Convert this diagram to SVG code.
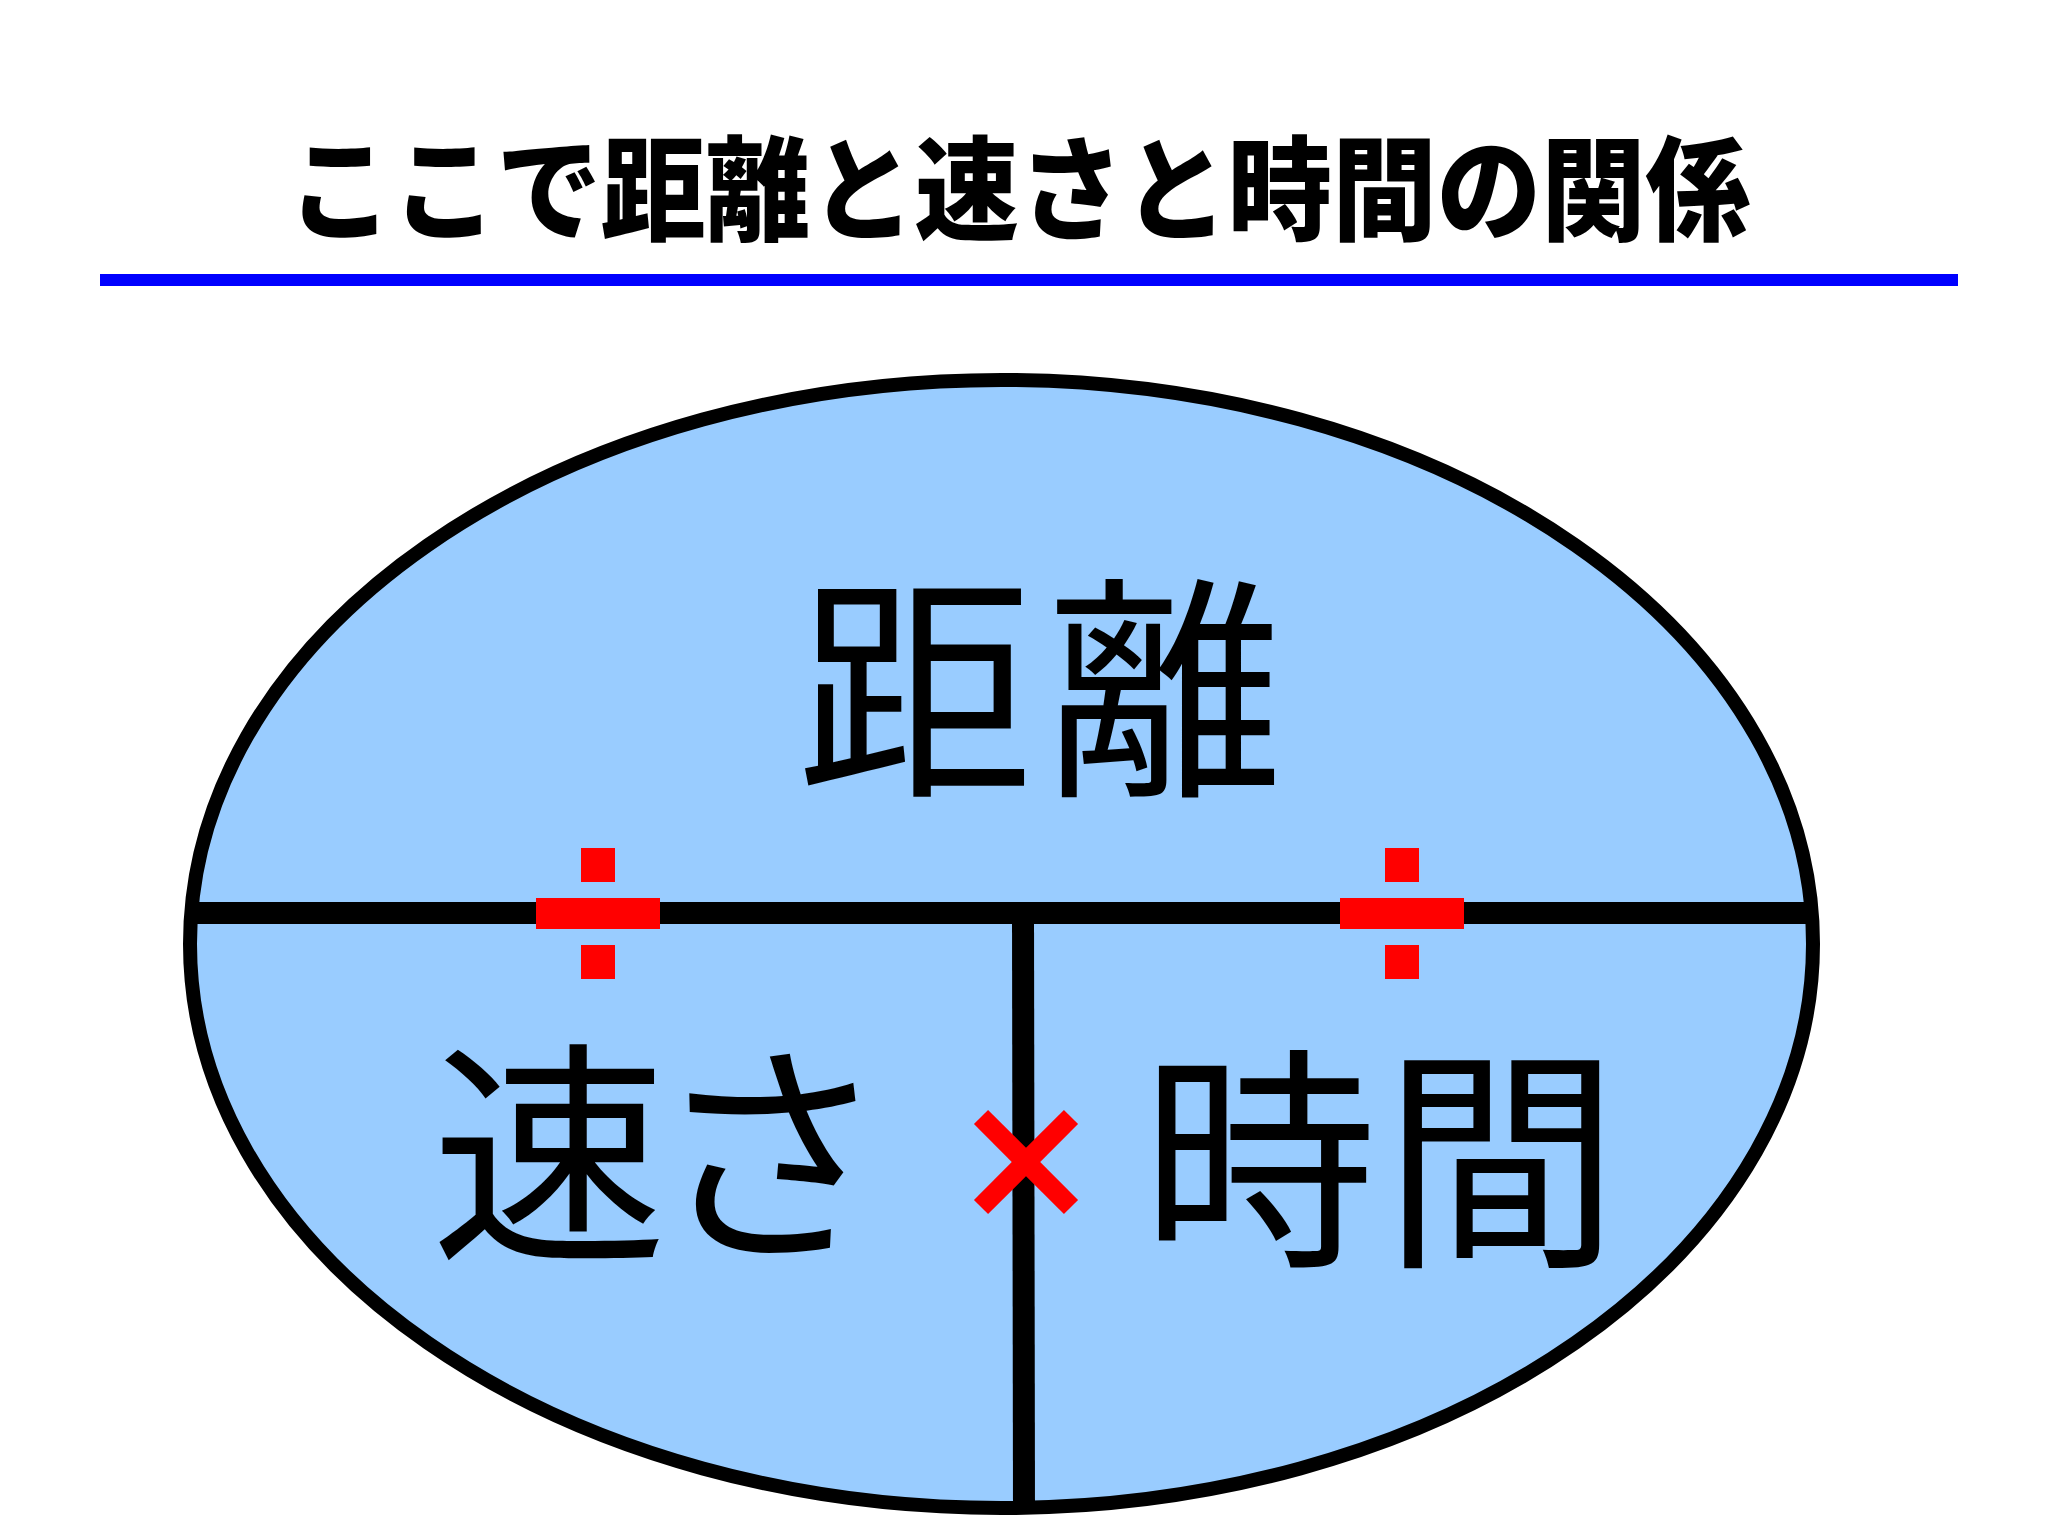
<svg xmlns="http://www.w3.org/2000/svg" width="2048" height="1535" viewBox="0 0 2048 1535">
<style>
.title{font-family:"Noto Sans CJK JP","Noto Sans CJK SC",sans-serif;font-weight:900;font-size:113px;fill:#000}
.big{font-family:"Noto Sans CJK JP","Noto Sans CJK SC",sans-serif;font-weight:400;font-size:236px;fill:#000;text-anchor:middle}
.red{fill:#FF0000}
</style>
<rect width="2048" height="1535" fill="#ffffff"/>
<g id="title">
<text class="title" x="1019" y="231" text-anchor="middle" textLength="1462" lengthAdjust="spacingAndGlyphs">ここで距離と速さと時間の関係</text>
<rect x="100" y="274" width="1858" height="12" fill="#0000FF"/>
</g>
<g id="ellipse">
<ellipse cx="1001.5" cy="944" rx="811.5" ry="564" fill="#99CCFF"/>
</g>
<g id="connectors">
<line x1="192" y1="913" x2="1811" y2="913" stroke="#000" stroke-width="22"/>
<line x1="1023" y1="913" x2="1024" y2="1510" stroke="#000" stroke-width="22"/>
</g>
<g id="ellipse-outline">
<ellipse cx="1001.5" cy="944" rx="811.5" ry="564" fill="none" stroke="#000" stroke-width="14"/>
</g>
<g id="node-distance">
<text class="big" y="778"><tspan x="915">距</tspan><tspan x="1165">離</tspan></text>
</g>
<g id="node-speed">
<text class="big" y="1243"><tspan x="549">速</tspan><tspan x="770">さ</tspan></text>
</g>
<g id="node-time">
<text class="big" y="1249"><tspan x="1259">時</tspan><tspan x="1501">間</tspan></text>
</g>
<g id="divide-left" class="red">
<rect x="536" y="898" width="124" height="31"/>
<rect x="581" y="848" width="34" height="34"/>
<rect x="581" y="945" width="34" height="34"/>
</g>
<g id="divide-right" class="red">
<rect x="1340" y="898" width="124" height="31"/>
<rect x="1385" y="848" width="34" height="34"/>
<rect x="1385" y="945" width="34" height="34"/>
</g>
<g id="times" stroke="#FF0000" stroke-width="20">
<line x1="981" y1="1117" x2="1071" y2="1207"/>
<line x1="1071" y1="1117" x2="981" y2="1207"/>
</g>
</svg>
